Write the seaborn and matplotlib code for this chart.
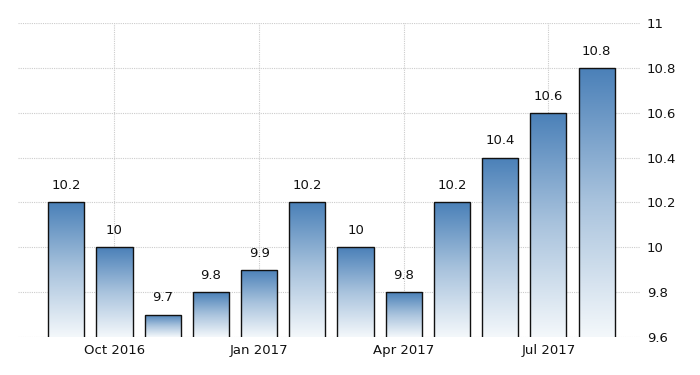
import numpy as np
import pandas as pd
import matplotlib
matplotlib.use("Agg")
import matplotlib.pyplot as plt
import seaborn as sns
from matplotlib.colors import LinearSegmentedColormap

months = ["Sep 2016", "Oct 2016", "Nov 2016", "Dec 2016", "Jan 2017", "Feb 2017",
          "Mar 2017", "Apr 2017", "May 2017", "Jun 2017", "Jul 2017", "Aug 2017"]
values = [10.2, 10.0, 9.7, 9.8, 9.9, 10.2, 10.0, 9.8, 10.2, 10.4, 10.6, 10.8]
value_labels = ["10.2", "10", "9.7", "9.8", "9.9", "10.2", "10", "9.8", "10.2", "10.4", "10.6", "10.8"]
xtick_labels = ["Oct 2016", "Jan 2017", "Apr 2017", "Jul 2017"]
yticks = [9.6, 9.8, 10.0, 10.2, 10.4, 10.6, 10.8, 11.0]
ytick_labels = ["9.6", "9.8", "10", "10.2", "10.4", "10.6", "10.8", "11"]

sns.set_style("white")
plt.rcParams['font.family'] = ['Liberation Sans Narrow', 'DejaVu Sans']

df = pd.DataFrame({"month": months, "value": values})

fig = plt.figure(figsize=(7, 3.75), dpi=100)
ax = fig.add_axes([18/700, 1 - 337/375, (640-18)/700, (337-23)/375])

sns.barplot(data=df, x="month", y="value", ax=ax, width=0.75, color="white",
            edgecolor="#111111", linewidth=1.0)

cmap = LinearSegmentedColormap.from_list("grad", ["#f4f8fb", "#a9c3dd", "#4a80b8"])
grad = np.linspace(0, 1, 256).reshape(-1, 1)
for p in ax.patches:
    x0 = p.get_x()
    w = p.get_width()
    top = p.get_height()
    p.set_facecolor("none")
    p.set_zorder(3)
    im = ax.imshow(grad, cmap=cmap, aspect="auto", origin="lower",
                   extent=[x0, x0 + w, 9.6, top], zorder=2, interpolation="bicubic")
    im.set_clip_path(p)

ax.set_xlim(-1.0, 11.9)
ax.set_ylim(9.6, 11.0)

for i, (v, lab) in enumerate(zip(values, value_labels)):
    ax.text(i, v + 0.045, lab, ha="center", va="bottom", fontsize=9.5, color="#111111")

tick_pos = [months.index(m) for m in xtick_labels]
ax.set_xticks(tick_pos)
ax.set_xticklabels(xtick_labels, fontsize=9.5, color="#111111")
ax.yaxis.tick_right()
ax.set_yticks(yticks)
ax.set_yticklabels(ytick_labels, fontsize=9.5, color="#111111")
ax.tick_params(axis="both", length=0)
ax.tick_params(axis="x", pad=5)
ax.tick_params(axis="y", pad=5)
ax.set_xlabel("")
ax.set_ylabel("")

ax.grid(True, axis="both", linestyle=(0, (1, 1)), color="#cccccc", linewidth=0.8)
ax.set_axisbelow(True)
for s in ax.spines.values():
    s.set_visible(False)

fig.savefig("out.png", dpi=100)
